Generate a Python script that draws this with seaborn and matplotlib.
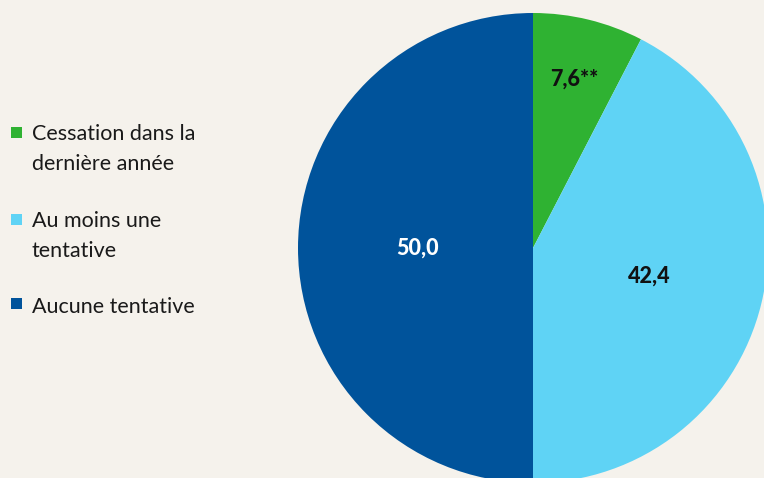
import matplotlib
matplotlib.use("Agg")
import matplotlib.pyplot as plt
import seaborn as sns
import numpy as np
from matplotlib.patches import Rectangle

sns.set_theme(style="white")
plt.rcParams['font.family'] = ['Lato', 'DejaVu Sans']

categories = ["Cessation dans la\ndernière année", "Au moins une\ntentative", "Aucune tentative"]
values = [7.6, 42.4, 50.0]
value_labels = ["7,6**", "42,4", "50,0"]
colors = ["#2FB232", "#5FD3F5", "#00539B"]
label_colors = ["#111111", "#111111", "#FFFFFF"]
label_dist = [0.74, 0.51, 0.49]

bg = "#F5F2EC"
W, H = 764, 478
fig = plt.figure(figsize=(W / 100, H / 100), dpi=100, facecolor=bg)

# pie axes: center (533, 248) px from top, radius 235 px
r = 235
cx, cy = 533, H - 248
ax = fig.add_axes([(cx - r) / W, (cy - r) / H, 2 * r / W, 2 * r / H])
ax.set_facecolor(bg)
wedges, _ = ax.pie(values, colors=colors, startangle=90, counterclock=False,
                   wedgeprops=dict(linewidth=0), radius=1.0)
ax.set_xlim(-1, 1)
ax.set_ylim(-1, 1)
ax.set_aspect("equal")
ax.axis("off")
for w, lab, col, d in zip(wedges, value_labels, label_colors, label_dist):
    ang = np.deg2rad((w.theta1 + w.theta2) / 2)
    ax.text(d * np.cos(ang), d * np.sin(ang), lab, ha="center", va="center",
            fontsize=15.5, fontweight="black", color=col)

# legend
first_baselines = [140, 227, 313]
square_tops = [127, 214, 298]
line_gap = 30
for cat, col, bl, st in zip(categories, colors, first_baselines, square_tops):
    fig.patches.append(Rectangle((11 / W, 1 - (st + 11) / H), 11 / W, 11 / H,
                                 transform=fig.transFigure, facecolor=col,
                                 edgecolor="none", figure=fig))
    for i, line in enumerate(cat.split("\n")):
        fig.text(32 / W, 1 - (bl + i * line_gap) / H, line, ha="left", va="baseline",
                 fontsize=15.5, color="#1A1A1A")

fig.savefig("out.png", dpi=100, facecolor=bg)
